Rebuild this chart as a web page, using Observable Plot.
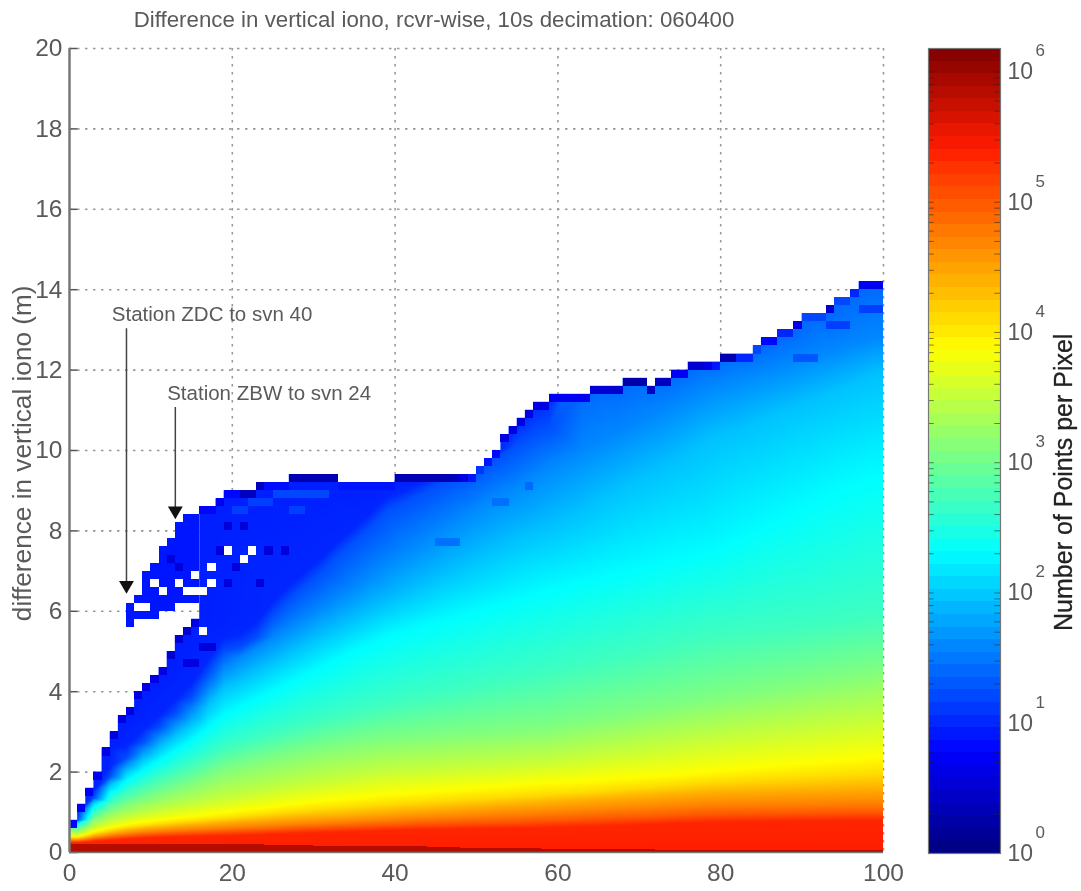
<!DOCTYPE html>
<html><head><meta charset="utf-8">
<script src="https://cdn.jsdelivr.net/npm/d3@7"></script>
<script src="https://cdn.jsdelivr.net/npm/@observablehq/plot@0.6"></script>
<style>
html,body{margin:0;padding:0;background:#fff;}
#page{position:relative;width:1081px;height:891px;overflow:hidden;font-family:"Liberation Sans",Arial,sans-serif;}
#page svg{position:absolute;left:0;top:0;background:transparent;filter:blur(0.6px);}
#title{position:absolute;left:69px;width:730px;top:7px;text-align:center;font-size:22.3px;color:#5a5a5a;filter:blur(0.5px);white-space:nowrap;}
</style></head><body>
<div id="page"><div id="title">Difference in vertical iono, rcvr-wise, 10s decimation: 060400</div></div>
<script>
// log10(points per pixel) of each contour, bottom to top
const bandLevels = [5.35,5.0,4.7,4.4,4.1,3.85,3.5,3.1,2.7,2.3,1.95,1.6,1.25,1.0];
// height (m) of each contour, read every 2 units of x (column centres 1,3,...,99)
const h535 = [.25,.28,.31,.34,.36,.38,.39,.4,.41,.42, .43,.44,.46,.47,.48,.5,.51,.52,.53,.55, .56,.57,.57,.58,.59,.6,.6,.61,.61,.62, .63,.64,.65,.67,.68,.7,.71,.73,.74,.75, .76,.77,.77,.78,.78,.79,.79,.8,.8,.8];
const h500 = [.28,.33,.37,.41,.44,.46,.48,.49,.51,.52, .54,.55,.57,.59,.61,.62,.64,.65,.67,.68, .69,.71,.72,.73,.74,.75,.76,.77,.79,.8, .81,.83,.84,.86,.87,.88,.9,.92,.94,.95, .96,.96,.97,.97,.98,.98,.99,.99,1,1];
const h470 = [.31,.37,.43,.47,.51,.54,.56,.58,.6,.62, .64,.66,.68,.7,.72,.74,.76,.78,.8,.82, .84,.86,.88,.89,.91,.93,.95,.96,.98,1, 1.02,1.04,1.06,1.08,1.1,1.12,1.14,1.16,1.18,1.2, 1.2,1.21,1.21,1.22,1.22,1.23,1.23,1.24,1.24,1.24];
const h440 = [.34,.42,.49,.55,.6,.63,.66,.69,.72,.75, .78,.8,.83,.85,.88,.9,.92,.95,.97,1, 1.03,1.05,1.08,1.1,1.13,1.15,1.18,1.2,1.23,1.25, 1.28,1.3,1.33,1.35,1.38,1.4,1.43,1.45,1.48,1.5, 1.51,1.52,1.53,1.54,1.55,1.56,1.57,1.58,1.59,1.6];
const h410 = [.37,.47,.55,.62,.67,.71,.75,.78,.82,.85, .89,.93,.97,1.01,1.04,1.08,1.11,1.14,1.17,1.2, 1.23,1.25,1.28,1.3,1.33,1.35,1.37,1.4,1.42,1.45, 1.47,1.5,1.53,1.56,1.6,1.62,1.65,1.68,1.72,1.75, 1.77,1.79,1.81,1.83,1.85,1.87,1.89,1.91,1.93,1.95];
const h385 = [.4,.52,.62,.7,.76,.81,.86,.9,.95,1.0, 1.05,1.1,1.15,1.2,1.25,1.29,1.33,1.37,1.41,1.45, 1.48,1.51,1.54,1.57,1.6,1.63,1.66,1.69,1.72,1.75, 1.77,1.79,1.82,1.85,1.88,1.9,1.93,1.96,2.0,2.05, 2.08,2.12,2.15,2.18,2.22,2.25,2.28,2.32,2.36,2.4];
const h350 = [.46,.64,.78,.89,.98,1.06,1.14,1.21,1.29,1.37, 1.45,1.52,1.59,1.66,1.73,1.8,1.86,1.92,1.98,2.04, 2.07,2.09,2.11,2.14,2.17,2.19,2.22,2.24,2.27,2.3, 2.35,2.41,2.46,2.52,2.57,2.63,2.68,2.74,2.8,2.85, 2.9,2.95,3.0,3.05,3.1,3.15,3.2,3.25,3.3,3.36];
const h310 = [.55,.82,1.02,1.18,1.31,1.44,1.57,1.7,1.87,2.04, 2.14,2.24,2.33,2.42,2.5,2.58,2.64,2.7,2.75,2.8, 2.83,2.86,2.89,2.92,2.95,2.98,3.01,3.04,3.07,3.1, 3.17,3.24,3.31,3.38,3.45,3.52,3.59,3.66,3.73,3.8, 3.87,3.94,4.01,4.08,4.15,4.22,4.29,4.36,4.43,4.5];
const h270 = [.65,.98,1.25,1.48,1.67,1.85,2.03,2.2,2.4,2.6, 2.72,2.84,2.96,3.08,3.2,3.3,3.4,3.5,3.6,3.7, 3.78,3.86,3.94,4.02,4.1,4.18,4.26,4.34,4.42,4.5, 4.59,4.68,4.77,4.86,4.95,5.04,5.13,5.22,5.31,5.4, 5.44,5.48,5.52,5.56,5.6,5.65,5.7,5.75,5.8,5.85];
const h230 = [.72,1.15,1.5,1.8,2.05,2.3,2.55,2.8,3.12,3.45, 3.65,3.85,4.05,4.25,4.45,4.65,4.85,5.05,5.22,5.4, 5.52,5.64,5.76,5.88,6.0,6.12,6.24,6.36,6.48,6.6, 6.7,6.8,6.9,7.0,7.1,7.2,7.3,7.4,7.5,7.6, 7.8,8.0,8.2,8.4,8.6,8.8,9.0,9.2,9.35,9.5];
const h195 = [.76,1.25,1.68,2.02,2.32,2.6,2.9,3.2,3.65,4.1, 4.3,4.52,4.74,4.96,5.18,5.4,5.6,5.8,6.0,6.2, 6.4,6.6,6.8,7.0,7.2,7.4,7.6,7.8,7.95,8.1, 8.3,8.5,8.75,9.0,9.2,9.4,9.6,9.8,10.05,10.3, 10.45,10.6,10.78,10.95,11.1,11.25,11.4,11.55,11.72,11.9];
const h160 = [.78,1.32,1.8,2.2,2.55,2.88,3.2,3.55,4.05,4.6, 4.85,5.1,5.35,5.6,5.85,6.1,6.35,6.6,6.9,7.2, 7.45,7.7,7.95,8.2,8.45,8.7,8.9,9.1,9.35,9.6, 9.8,10,10.2,10.4,10.6,10.8,11,11.2,11.4,11.6, 11.72,11.84,11.96,12.08,12.2,12.32,12.44,12.56,12.68,12.8];
const h125 = [.8,1.36,1.9,2.35,2.75,3.1,3.45,3.85,4.45,5.0, 5.1,5.35,5.9,6.3,6.65,7.0,7.4,7.75,8.1,8.5, 8.7,8.9,9.1,9.3,9.45,9.7,9.9,10.15,10.4,10.6];
const h100 = [1,1.55,2.15,2.65,3.05,3.4,3.8,4.2,4.8,5.35, 5.45,5.75,6.25,6.65,7.0,7.35,7.75,8.1,8.45,8.85, 9,9.2,9.4,9.6,9.75];
const contourHeights = [h535,h500,h470,h440,h410,h385,h350,h310,h270,h230,h195,h160,h125,h100];
// bottom row of cells: height of the darkest band at the same columns
const hBottom = [.2,.2,.2,.2,.2,.2,.2,.2,.2,.2, .2,.2,.18,.18,.17,.16,.16,.15,.15,.15, .14,.14,.12,.12,.11,.1,.1,.09,.09,.08, .08,.08,.07,.07,.07,.07,.06,.06,.06,.06, .06,.06,.05,.05,.05,.05,.05,.05,.05,.05];
const bottomLevel = 5.85, floorLevel = 5.4;
// level just under the top edge at the same columns
const upperLevels = [.95,.95,.95,.95,.95,.95,.95,.95,.95,.95, .95,.95,.95,.95,.95,.95,.95,.95,.95,.95, .95,.95,.95,.95,.95, 1.05,1.05,1.05,1.05,1.05, 1.4,1.4,1.4,1.4,1.4,1.4,1.4,1.4,1.4,1.4, 1.4,1.4,1.4,1.4,1.4,1.4,1.4,1.4,1.4,1.4];
// top of the filled body in each 1-unit column, x = 0..99
const bodyTop = [.8,1.2,1.6,2,2.6,3,3.4,3.6,4,4.2, 4.4,4.6,5,5.4,5.6,5.8,8.6,8.6,8.8,9, 9,9,9,9.2,9.2,9.2,9.2,9.4,9.4,9.4, 9.4,9.4,9.4,9.2,9.2,9.2,9.2,9.2,9.2,9.2, 9.4,9.4,9.4,9.4,9.4,9.4,9.4,9.4,9.4,9.4, 9.6,9.8,10,10.4,10.6,10.8,11,11.2,11.2,11.4, 11.4,11.4,11.4,11.4,11.6,11.6,11.6,11.6,11.8,11.8, 11.8,11.6,11.8,11.8,12,12,12.2,12.2,12.2,12.2, 12.4,12.4,12.4,12.4,12.6,12.8,12.8,13,13,13.2, 13.4,13.4,13.4,13.6,13.8,13.8,14,14.2,14.2,14.2];
// log10 count of the topmost cell in each column
const topCell = [.8,.7,.7,.7,.6,.6,.6,.6,.6,.6, .6,.6,.5,.5,.5,.6,.8,.8,.7,.8, .8,.4,.4,.4,.85,.85,.85,.3,.3,.3, .3,.3,.3,.9,.9,.9,.9,.9,.9,.9, .3,.3,.3,.3,.3,.3,.3,.4,.6,.9, 1.1,.9,.8,.6,.6,.6,.6,.6,.6,.7, .7,.7,.7,.7,.5,.5,.5,.5,.25,.25, .25,.4,.4,.4,.7,.7,.5,.5,.6,.9, .3,.3,1,1,1.2,.8,.8,1,1,.6, 1.2,1.2,1.2,.5,1.2,1.2,1,.7,.7,.7];
// detached island above the notch
const islandX  = [7,8,9,10,11,12,13,14,15];
const islandY1 = [5.6,5.8,5.8,5.8,6,6,6.2,6.2,6.2];
const islandY2 = [6.2,6.4,7,7.2,7.6,7.8,8.2,8.4,8.4];
// empty cells inside the low-count region
const holeX = [8,9,10,11,13,14,15,16,15,17,17,19,21,22,16];
const holeY = [6,6,6.6,6.4,6.6,6.4,6.4,6.4,6.8,6.6,7,7.4,7.2,7.4,5.4];
// visibly darker or lighter single cells
const patchX = [19,23,24,26,20,16,17,14,15,19,21,18,12,13, 22,23,24,25,26,27,28,29,30,31,20,21,27,28, 56,52,53,89,90,91,97,98,99,93,94,95,45,46,47];
const patchY = [6.6,6.6,7.4,7.4,7,5,5,4.6,4.6,8,8,7.4,7.2,7, 8.6,8.6,8.6,8.8,8.8,8.8,8.8,8.8,8.8,8.8,8.4,8.4,8.4,8.4, 9,8.6,8.6,12.2,12.2,12.2,13.4,13.4,13.4,13,13,13,7.6,7.6,7.6];
const patchV = [.55,.55,.55,.55,.55,.55,.55,.6,.6,.55,.55,.55,.55,.55, 1.15,1.15,1.15,1.2,1.2,1.2,1.2,1.2,1.2,1.2,1.15,1.15,1.15,1.15, 1.4,1.45,1.45,1.3,1.3,1.3,1.15,1.15,1.15,1.15,1.15,1.15,1.45,1.45,1.45];

const xTicks = [0,20,40,60,80,100];
const yTicks = [0,2,4,6,8,10,12,14,16,18,20];
const decades = [0,1,2,3,4,5,6];
const minorFactors = [2,3,4,5,6,7,8,9];
const cbTop = 6.18;
const colorStops = [0,.77,2.32,3.86,5.41,6.18];
const colorRange = ["#00007f","#0000ff","#00ffff","#ffff00","#ff1c00","#7f0000"];
const colorOpt = {type:"linear",domain:colorStops,range:colorRange,interpolate:"rgb"};

// contour samples, handed to the raster mark
const samples = [];
function addColumn(xc,c){
  samples.push({x:xc,y:0,v:floorLevel});
  let last = 0;
  contourHeights.forEach((arr,k)=>{
    if(c<arr.length){samples.push({x:xc,y:arr[c],v:bandLevels[k]});last=arr[c];}
  });
  const top = bodyTop[2*c];
  if(top>last+.05) samples.push({x:xc,y:top,v:upperLevels[c]});
}
hBottom.forEach((_,c)=>addColumn(2*c+1,c));
addColumn(0,0);addColumn(100,49);
const cells = [];
bodyTop.forEach((top,i)=>{
  cells.push({x1:i,x2:i+1,y1:top-.2,y2:top,v:topCell[i]});
  cells.push({x1:i,x2:i+1,y1:0,y2:hBottom[Math.floor(i/2)],v:bottomLevel});
});
islandX.forEach((x,i)=>cells.push({x1:x,x2:x+1,y1:islandY1[i],y2:islandY2[i],v:.9}));
patchX.forEach((x,i)=>cells.push({x1:x,x2:x+1,y1:patchY[i],y2:patchY[i]+.2,v:patchV[i]}));
const holes = holeX.map((x,i)=>({x1:x,x2:x+1,y1:holeY[i],y2:holeY[i]+.2}));

const gray="#5a5a5a", font="Liberation Sans, Arial, sans-serif";
const main = Plot.plot({
  width:1081,height:891,marginLeft:69,marginRight:198,marginTop:48,marginBottom:39,
  style:{fontFamily:font,background:"transparent"},
  x:{domain:[0,100]},y:{domain:[0,20]},color:colorOpt,
  marks:[
    Plot.ruleX(xTicks.slice(1),{stroke:"#999",strokeDasharray:"2.5,5.5",strokeWidth:1.6}),
    Plot.ruleY(yTicks.slice(1),{stroke:"#999",strokeDasharray:"2.5,5.5",strokeWidth:1.6}),
    Plot.raster(samples,{x:"x",y:"y",fill:"v",interpolate:"barycentric"}),
    Plot.rect(cells,{x1:"x1",x2:"x2",y1:"y1",y2:"y2",fill:"v",shapeRendering:"crispEdges"}),
    Plot.rect(holes,{x1:"x1",x2:"x2",y1:"y1",y2:"y2",fill:"white",shapeRendering:"crispEdges"}),
    Plot.ruleY(yTicks,{x1:0,x2:1,stroke:"#555",strokeWidth:1.5}),
    Plot.ruleX([0],{stroke:"#777",strokeWidth:2.5}),
    Plot.ruleY([0],{stroke:"#777",strokeWidth:1.5}),
    Plot.axisX({ticks:xTicks,tickSize:0,tickPadding:11,fontSize:24.5,color:gray,label:null,tickFormat:d=>d}),
    Plot.axisY({ticks:yTicks,tickSize:0,tickPadding:7,fontSize:24.5,color:gray,label:null,tickFormat:d=>d}),
    Plot.text(["difference in vertical iono (m)"],{x:0,y:9.93,dx:-47,rotate:-90,fontSize:26.2,fill:gray}),
    Plot.text(["Station ZDC to svn 40"],{x:5.2,y:13.38,textAnchor:"start",fontSize:20.5,fill:gray}),
    Plot.text(["Station ZBW to svn 24"],{x:12,y:11.42,textAnchor:"start",fontSize:20.5,fill:gray}),
    Plot.ruleX([7],{y1:13.03,y2:6.6,stroke:"#444",strokeWidth:1.5}),
    Plot.ruleX([13],{y1:11.07,y2:8.45,stroke:"#444",strokeWidth:1.5}),
    Plot.dot([[7,6.65],[13,8.5]],{x:d=>d[0],y:d=>d[1],symbol:"triangle",rotate:180,r:5.5,fill:"#111",stroke:"none"})
  ]
});
// keep the raster inside the filled columns: one staircase outline, wrapped in an untransformed group
const sx = main.scale("x"), sy = main.scale("y");
const NS = "http://www.w3.org/2000/svg";
const defs = document.createElementNS(NS,"defs");
const clipEl = document.createElementNS(NS,"clipPath");
clipEl.setAttribute("id","bodyClip");
let outline = `M${sx.apply(0)},${sy.apply(0)}`;
bodyTop.forEach((top,i)=>{outline += `L${sx.apply(i)},${sy.apply(top)}L${sx.apply(i+1)},${sy.apply(top)}`;});
outline += `L${sx.apply(100)},${sy.apply(0)}Z`;
const clipShape = document.createElementNS(NS,"path");
clipShape.setAttribute("d",outline);
clipEl.appendChild(clipShape);
defs.appendChild(clipEl);main.insertBefore(defs,main.firstChild);
const img = main.querySelector("image");
let rasterNode = img; while(rasterNode.parentNode!==main) rasterNode = rasterNode.parentNode;
const wrap = document.createElementNS(NS,"g");
wrap.setAttribute("clip-path","url(#bodyClip)");
main.insertBefore(wrap,rasterNode);wrap.appendChild(rasterNode);

const barLevels = d3.range(64);
const minor = decades.slice(0,6).flatMap(d=>minorFactors.map(m=>m*10**d)).concat(decades.map(d=>10**d));
const bar = Plot.plot({
  width:1081,height:891,marginLeft:928,marginRight:81,marginTop:48,marginBottom:38,
  style:{fontFamily:font,background:"transparent"},
  x:{domain:[0,1],axis:null},y:{type:"log",domain:[1,10**cbTop],axis:null},color:colorOpt,
  marks:[
    Plot.rect(barLevels,{x1:0,x2:1,y1:i=>10**(i*cbTop/64),y2:i=>10**((i+1)*cbTop/64),fill:i=>(i+.5)*cbTop/64,shapeRendering:"crispEdges"}),
    Plot.ruleY(minor,{x1:0,x2:.08,stroke:"#222",strokeOpacity:.55}),
    Plot.ruleY(minor,{x1:.92,x2:1,stroke:"#222",strokeOpacity:.55}),
    Plot.frame({stroke:"#777",strokeWidth:1.2}),
    Plot.text(decades,{x:1,y:d=>10**d,text:()=>"10",textAnchor:"start",dx:7,fontSize:23,fill:gray}),
    Plot.text(decades,{x:1,y:d=>10**d,text:d=>String(d),textAnchor:"start",dx:35,dy:-21,fontSize:17,fill:gray}),
    Plot.text(["Number of Points per Pixel"],{x:1,y:10**2.85,dx:63,rotate:-90,fontSize:25,fill:"#222",stroke:"#222",strokeWidth:.3})
  ]
});
const page=document.getElementById("page");
page.appendChild(main);page.appendChild(bar);
</script></body></html>
